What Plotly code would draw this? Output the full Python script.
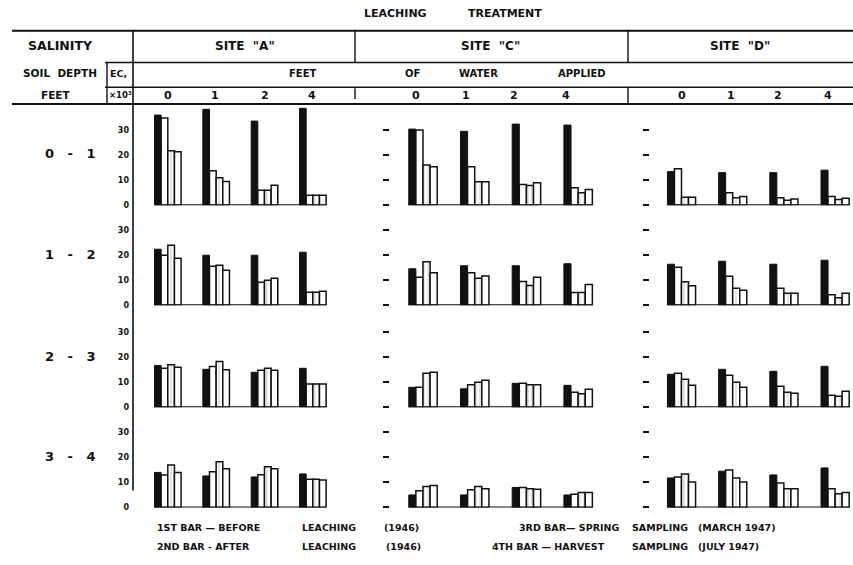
import plotly.graph_objects as go

W, H = 853, 565

# ---------------- data ----------------
water = ["0", "1", "2", "4"]
depths = ["0 - 1", "1 - 2", "2 - 3", "3 - 4"]
sites = ['SITE "A"', 'SITE "C"', 'SITE "D"']
bar_names = ["Before leaching (1946)", "After leaching (1946)",
             "Spring sampling (March 1947)", "Harvest sampling (July 1947)"]
ec_ticks = [0, 10, 20, 30]
ec_ticktext = ["0", "10", "20", "30"]

# rows = soil depth, columns = feet of water applied (0, 1, 2, 4)
site_a_before = [[36.0, 38.3, 33.6, 38.7], [22.4, 20.0, 20.0, 21.2], [16.7, 15.2, 14.0, 15.6], [14.0, 12.6, 12.2, 13.4]]
site_a_after = [[34.8, 13.8, 6.0, 4.0], [20.0, 15.6, 9.2, 5.2], [15.6, 16.3, 14.8, 9.3], [13.0, 14.3, 13.1, 11.3]]
site_a_spring = [[21.7, 11.0, 6.0, 4.0], [24.0, 16.0, 10.0, 5.2], [17.0, 18.3, 15.6, 9.3], [17.0, 18.3, 16.3, 11.3]]
site_a_harvest = [[21.3, 9.5, 8.0, 4.0], [18.8, 14.0, 10.8, 5.6], [16.0, 15.0, 14.8, 9.3], [14.0, 15.5, 15.5, 11.0]]

site_c_before = [[30.4, 29.5, 32.4, 32.0], [14.6, 15.8, 15.8, 16.6], [8.0, 7.4, 9.6, 8.8], [5.0, 5.0, 8.0, 5.0]]
site_c_after = [[30.0, 15.4, 8.3, 7.0], [11.2, 13.0, 9.5, 5.1], [8.0, 9.0, 9.6, 6.0], [6.7, 7.1, 8.0, 5.3]]
site_c_spring = [[16.0, 9.4, 7.9, 5.0], [17.4, 10.8, 7.9, 5.1], [13.6, 10.0, 9.0, 5.4], [8.4, 8.4, 7.5, 6.0]]
site_c_harvest = [[15.4, 9.4, 9.0, 6.3], [13.0, 11.7, 11.2, 8.3], [14.0, 10.8, 9.0, 7.2], [8.8, 7.5, 7.3, 6.0]]

site_d_before = [[13.4, 13.0, 13.0, 14.0], [16.4, 17.6, 16.4, 18.0], [13.2, 15.2, 14.4, 16.4], [11.8, 14.5, 13.0, 15.8]]
site_d_after = [[14.6, 5.0, 3.0, 3.5], [15.2, 11.6, 6.8, 4.2], [13.6, 12.8, 8.4, 4.8], [12.2, 15.0, 9.8, 7.5]]
site_d_spring = [[3.2, 3.0, 2.0, 2.3], [9.4, 6.8, 4.8, 3.0], [11.2, 10.0, 6.0, 4.4], [13.4, 11.8, 7.5, 5.5]]
site_d_harvest = [[3.2, 3.5, 2.5, 2.8], [7.8, 6.0, 4.8, 4.8], [8.8, 8.0, 5.6, 6.4], [10.2, 10.2, 7.5, 6.0]]

site_series = [
    [site_a_before, site_a_after, site_a_spring, site_a_harvest],
    [site_c_before, site_c_after, site_c_spring, site_c_harvest],
    [site_d_before, site_d_after, site_d_spring, site_d_harvest],
]

# ---------------- layout helpers ----------------
FONT = "DejaVu Sans"
NB = "\u00a0"


def px(x):
    return x / W


def py(y):
    return 1 - y / H


# x domains (pixels) and category ranges for each site
site_dom = [(133, 337), (390, 604), (650, 853)]
site_rng = [[-0.72, 3.5], [-0.638, 3.5], [-0.615, 3.35]]
# row baselines (pixels); 40 EC units span 101 px
row_base = [207, 308, 411, 512]
ROW_SPAN = 101
Y_MAX = 40

bar_styles = [
    dict(color="#111111", line=dict(color="#111111", width=1)),
    dict(color="white", line=dict(color="#111111", width=1.5)),
    dict(color="white", line=dict(color="#111111", width=1.5),
         pattern=dict(shape="|", size=4, solidity=0.15, fgcolor="#444444", bgcolor="white")),
    dict(color="white", line=dict(color="#111111", width=1.5)),
]

fig = go.Figure()
layout = dict(
    width=W, height=H, margin=dict(l=0, r=0, t=0, b=0),
    paper_bgcolor="white", plot_bgcolor="white",
    showlegend=False, barmode="group", bargap=0.45, bargroupgap=0.0,
    font=dict(family=FONT, color="#111111"),
)
shapes = []
annotations = []

for r in range(4):
    for s in range(3):
        k = r * 3 + s + 1
        xa = "x" if k == 1 else f"x{k}"
        ya = "y" if k == 1 else f"y{k}"
        for b in range(4):
            fig.add_trace(go.Bar(
                x=water, y=site_series[s][b][r], name=bar_names[b],
                marker=bar_styles[b], xaxis=xa, yaxis=ya,
                offsetgroup=str(b), showlegend=False,
                hovertemplate=f"{sites[s]}, depth {depths[r]} ft<br>water %{{x}} ft<br>EC×10³ %{{y}}<extra>{bar_names[b]}</extra>",
            ))
        d0, d1 = site_dom[s]
        layout[f"xaxis{k}"] = dict(
            domain=[px(d0), px(d1)], range=site_rng[s], anchor=ya,
            type="category", categoryorder="array", categoryarray=water,
            showticklabels=False, showline=False, showgrid=False,
            zeroline=False, ticks="",
        )
        base = row_base[r]
        yax = dict(
            domain=[py(base), py(base - ROW_SPAN)], range=[0, Y_MAX], anchor=xa,
            showgrid=False, zeroline=False, showline=False,
            tickvals=ec_ticks, ticktext=ec_ticktext,
        )
        if s == 0:
            yax.update(ticks="", showticklabels=True, ticklabelstandoff=3,
                       tickfont=dict(size=8, family=FONT, weight="bold"))
        else:
            yax.update(ticks="outside", ticklen=6, tickwidth=2.2, tickcolor="#111111",
                       showticklabels=False)
        layout[f"yaxis{k}"] = yax
        # baseline joining the bar groups
        shapes.append(dict(type="line", xref=xa, yref=ya, x0=-0.28, x1=3.28, y0=0, y1=0,
                           line=dict(color="#111111", width=2)))


def hline(y, x0, x1, w=1.6):
    shapes.append(dict(type="line", xref="paper", yref="paper",
                       x0=px(x0), x1=px(x1), y0=py(y), y1=py(y),
                       line=dict(color="#111111", width=w)))


def vline(x, y0, y1, w=1.6):
    shapes.append(dict(type="line", xref="paper", yref="paper",
                       x0=px(x), x1=px(x), y0=py(y0), y1=py(y1),
                       line=dict(color="#111111", width=w)))


hline(31, 12, 853, 2)
hline(63, 105, 853, 1.6)
hline(88, 105, 853, 1.6)
hline(105, 12, 853, 2)
vline(133, 31, 495, 1.6)
vline(107, 63, 105, 1.4)
vline(355, 31, 63, 1.4)
vline(355, 89, 100, 1.4)
vline(628, 31, 63, 1.4)
vline(628, 88, 105, 1.4)


def ann(text, x, y, size=10, xanchor="center"):
    annotations.append(dict(text=text, x=px(x), y=py(y), xref="paper", yref="paper",
                            showarrow=False, xanchor=xanchor, yanchor="middle",
                            font=dict(size=size, family=FONT, color="#111111", weight="bold")))


ann("LEACHING", 395, 14, 11)
ann("TREATMENT", 505, 14, 11)
ann("SALINITY", 60, 46, 12.5)
site_cx = [245, 490, 740]
for s in range(3):
    ann(sites[s].replace(" ", NB + NB), site_cx[s], 46, 12)
ann("SOIL" + NB + NB + "DEPTH", 60, 74, 10.5)
ann("EC,", 119, 74, 9.5)
ann("FEET", 56, 96, 10.5)
ann("×10³", 120, 96, 8.5)
ann("FEET", 302, 74, 10)
ann("OF", 412, 74, 10)
ann("WATER", 478, 74, 10)
ann("APPLIED", 582, 74, 10)
water_label_x = [[168, 215, 265, 312], [416, 466, 514, 566], [682, 731, 778, 828]]
for s in range(3):
    for j, w in enumerate(water):
        ann(w, water_label_x[s][j], 96, 11)
depth_y = [155, 257, 360, 461]
SP = NB * 3
for r in range(4):
    ann(depths[r].replace(" - ", SP + "-" + SP), 70, depth_y[r], 13)

# legend text
LS = 9.5
ann("1ST BAR — BEFORE", 155, 532, LS, "left")
ann("LEACHING", 300, 532, LS, "left")
ann("(1946)", 382, 532, LS, "left")
ann("2ND BAR - AFTER", 155, 551, LS, "left")
ann("LEACHING", 300, 551, LS, "left")
ann("(1946)", 384, 551, LS, "left")
ann("3RD BAR— SPRING", 517, 532, LS, "left")
ann("SAMPLING", 630, 532, LS, "left")
ann("(MARCH" + NB + "1947)", 696, 532, LS, "left")
ann("4TH BAR — HARVEST", 490, 551, LS, "left")
ann("SAMPLING", 630, 551, LS, "left")
ann("(JULY" + NB + "1947)", 696, 551, LS, "left")

layout["shapes"] = shapes
layout["annotations"] = annotations
fig.update_layout(**layout)
fig.write_html(
    "out.html",
    config={"displayModeBar": False},
    post_script="document.body.style.margin='0';document.body.style.padding='0';"
                "document.body.style.overflow='hidden';",
)
